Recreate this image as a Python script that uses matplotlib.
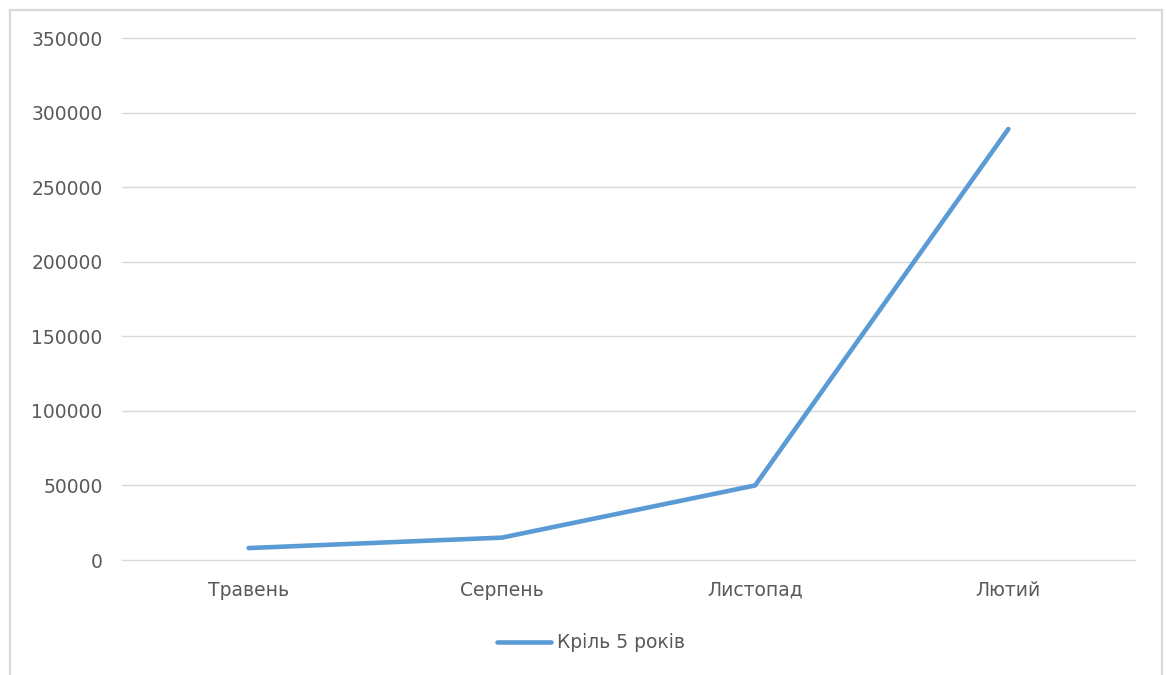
import matplotlib.pyplot as plt
from matplotlib.patches import Rectangle

months = ["Травень", "Серпень", "Листопад", "Лютий"]
values = [8000, 15000, 50000, 289000]
series_name = "Кріль 5 років"
yticks = [0, 50000, 100000, 150000, 200000, 250000, 300000, 350000]

plt.rcParams['font.family'] = ['DejaVu Sans']
TEXT = '#595959'
FS = 13.5

fig = plt.figure(figsize=(11.67, 6.75), dpi=100)
ax = fig.add_axes([122 / 1167, 1 - 560 / 675, (1135 - 122) / 1167, (560 - 38) / 675])

x = range(len(months))
ax.plot(x, values, color='#5B9BD5', linewidth=3.3, solid_capstyle='round',
        solid_joinstyle='round', label=series_name, zorder=3)

ax.set_xlim(-0.5, len(months) - 0.5)
ax.set_ylim(0, 350000)
ax.set_yticks(yticks)
ax.set_yticklabels([str(v) for v in yticks])
ax.set_xticks(list(x))
ax.set_xticklabels(months)
ax.tick_params(axis='both', length=0, colors=TEXT, labelsize=FS)
ax.tick_params(axis='y', pad=14)
ax.tick_params(axis='x', pad=15)

ax.grid(axis='y', color='#d9d9d9', linewidth=1)
for gl in ax.get_ygridlines():
    gl.set_clip_on(False)
ax.set_axisbelow(True)
for s in ax.spines.values():
    s.set_visible(False)

leg = fig.legend(loc='center', bbox_to_anchor=(591 / 1167, 1 - 643 / 675), frameon=False,
                 fontsize=FS, handlelength=2.9, handletextpad=0.3)
for t in leg.get_texts():
    t.set_color(TEXT)

# chart frame
fig.add_artist(Rectangle((10 / 1167, -0.02), (1162 - 10) / 1167, 1 - 10 / 675 + 0.02,
                         transform=fig.transFigure, fill=False, edgecolor='#d9d9d9', linewidth=1.6))

fig.savefig('out.png', dpi=100)
